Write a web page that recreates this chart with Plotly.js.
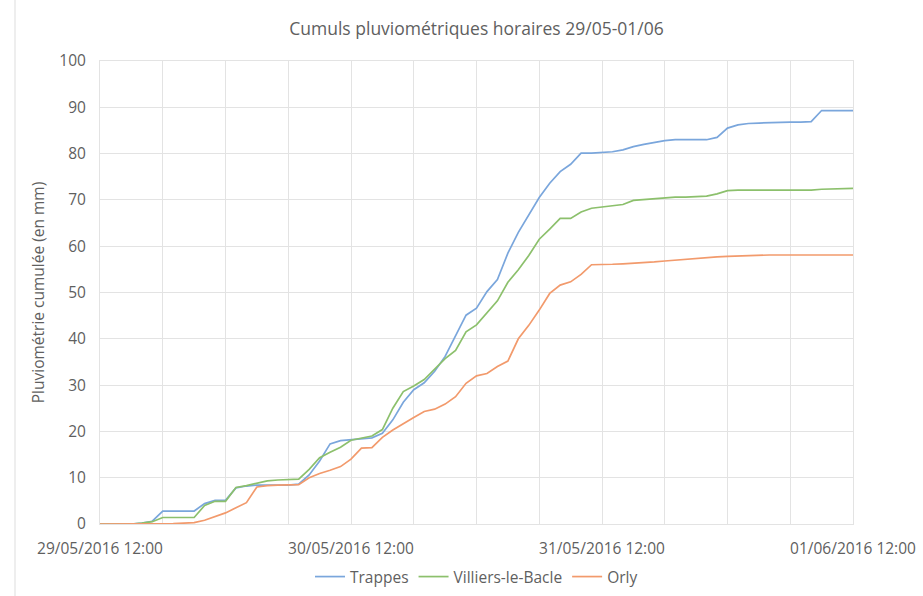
<!DOCTYPE html>
<html>
<head>
<meta charset="utf-8">
<script src="https://cdn.plot.ly/plotly-3.0.1.min.js"></script>
<style>
html,body{margin:0;padding:0;background:#fff;}
#chart{width:923px;height:596px;}
</style>
</head>
<body>
<div id="chart"></div>
<script>
// Hourly timestamps, 29/05/2016 12:00 -> 01/06/2016 12:00
const times = [
"2016-05-29 12:00","2016-05-29 13:00","2016-05-29 14:00","2016-05-29 15:00","2016-05-29 16:00","2016-05-29 17:00",
"2016-05-29 18:00","2016-05-29 19:00","2016-05-29 20:00","2016-05-29 21:00","2016-05-29 22:00","2016-05-29 23:00",
"2016-05-30 00:00","2016-05-30 01:00","2016-05-30 02:00","2016-05-30 03:00","2016-05-30 04:00","2016-05-30 05:00",
"2016-05-30 06:00","2016-05-30 07:00","2016-05-30 08:00","2016-05-30 09:00","2016-05-30 10:00","2016-05-30 11:00",
"2016-05-30 12:00","2016-05-30 13:00","2016-05-30 14:00","2016-05-30 15:00","2016-05-30 16:00","2016-05-30 17:00",
"2016-05-30 18:00","2016-05-30 19:00","2016-05-30 20:00","2016-05-30 21:00","2016-05-30 22:00","2016-05-30 23:00",
"2016-05-31 00:00","2016-05-31 01:00","2016-05-31 02:00","2016-05-31 03:00","2016-05-31 04:00","2016-05-31 05:00",
"2016-05-31 06:00","2016-05-31 07:00","2016-05-31 08:00","2016-05-31 09:00","2016-05-31 10:00","2016-05-31 11:00",
"2016-05-31 12:00","2016-05-31 13:00","2016-05-31 14:00","2016-05-31 15:00","2016-05-31 16:00","2016-05-31 17:00",
"2016-05-31 18:00","2016-05-31 19:00","2016-05-31 20:00","2016-05-31 21:00","2016-05-31 22:00","2016-05-31 23:00",
"2016-06-01 00:00","2016-06-01 01:00","2016-06-01 02:00","2016-06-01 03:00","2016-06-01 04:00","2016-06-01 05:00",
"2016-06-01 06:00","2016-06-01 07:00","2016-06-01 08:00","2016-06-01 09:00","2016-06-01 10:00","2016-06-01 11:00",
"2016-06-01 12:00"
];

const trappes = [
0,0,0,0,0.2,0.6,2.8,2.8,2.8,2.8,4.4,5.1,
5.1,7.8,8.2,8.4,8.4,8.4,8.4,8.6,10.6,13.6,17.3,18.0,
18.2,18.4,18.6,19.6,22.5,26.3,29.0,30.5,33.0,36.2,40.5,45.1,
46.6,50.2,52.8,58.5,63.0,66.7,70.5,73.6,76.1,77.7,80.1,80.1,
80.2,80.4,80.8,81.5,82.0,82.4,82.8,83.0,83.0,83.0,83.0,83.5,
85.5,86.2,86.5,86.6,86.7,86.8,86.8,86.8,86.9,89.3,89.3,89.3,
89.3
];

const villiers = [
0,0,0,0,0.2,0.5,1.4,1.4,1.4,1.4,4.0,4.9,
4.9,7.9,8.3,8.8,9.3,9.5,9.6,9.7,11.8,14.3,15.5,16.6,
18.1,18.6,19.0,20.4,25.0,28.6,29.8,31.2,33.5,35.7,37.5,41.5,
43.0,45.5,48.2,52.2,54.9,58.0,61.5,63.7,66.0,66.0,67.4,68.2,
68.5,68.8,69.0,69.9,70.1,70.2,70.5,70.6,70.6,70.7,70.8,71.3,
72.0,72.1,72.1,72.1,72.1,72.1,72.1,72.1,72.1,72.3,72.4,72.5,
72.5
];

const orly = [
0,0,0,0,0,0,0,0.1,0.2,0.3,0.8,1.6,
2.4,3.5,4.6,8.0,8.3,8.4,8.4,8.5,10.0,10.9,11.6,12.4,
14.0,16.4,16.5,18.7,20.3,21.7,23.0,24.3,24.8,25.9,27.5,30.4,
32.0,32.5,34.0,35.2,40.0,42.9,46.2,49.8,51.6,52.3,53.9,56.0,
56.0,56.1,56.2,56.3,56.4,56.6,56.8,57.0,57.2,57.4,57.6,57.7,
57.8,57.9,58.0,58.1,58.1,58.1,58.1,58.1,58.1,58.1,58.1,58.1,
58.1
];

const seriesNames = ["Trappes","Villiers-le-Bacle","Orly"];
const seriesColors = ["#7aa6dc","#8cc06c","#f29a6c"];

// x ticks every 6 h, labels every 24 h
const tickVals = [
"2016-05-29 12:00","2016-05-29 18:00","2016-05-30 00:00","2016-05-30 06:00",
"2016-05-30 12:00","2016-05-30 18:00","2016-05-31 00:00","2016-05-31 06:00",
"2016-05-31 12:00","2016-05-31 18:00","2016-06-01 00:00","2016-06-01 06:00",
"2016-06-01 12:00"
];
const tickText = [
"29/05/2016 12:00","","","",
"30/05/2016 12:00","","","",
"31/05/2016 12:00","","","",
"01/06/2016 12:00"
];

const titleText = "Cumuls pluviométriques horaires 29/05-01/06";
const yTitleText = "Pluviométrie cumulée (en mm)";

const ys = [trappes, villiers, orly];
const traces = ys.map((y,i)=>({
  x: times, y: y, type:"scatter", mode:"lines", name: seriesNames[i],
  line:{color: seriesColors[i], width:1.7}
}));

const gridC = "#e3e3e3";
const txtC = "#5f5f5f";
const F = "Open Sans, Liberation Sans, sans-serif";

const layout = {
  width:923, height:596,
  paper_bgcolor:"#fff", plot_bgcolor:"#fff",
  margin:{l:100, r:70, t:61, b:72, autoexpand:false},
  font:{family:F, color:txtC, size:15},
  title:{text:titleText, font:{family:F, size:17.5, color:txtC},
         x:0.5, xref:"paper", xanchor:"center", y:1-29/596, yref:"container", yanchor:"middle"},
  xaxis:{type:"date", range:["2016-05-29 12:00","2016-06-01 12:00"],
         tickmode:"array", tickvals:tickVals, ticktext:tickText,
         showgrid:true, gridcolor:gridC, gridwidth:1,
         showline:true, linecolor:gridC, linewidth:1, mirror:true,
         zeroline:false, ticks:"", ticklabelstandoff:10, automargin:false,
         tickfont:{family:F, size:15.5, color:txtC}, fixedrange:true},
  yaxis:{range:[0,100], dtick:10, tick0:0,
         showgrid:true, gridcolor:gridC, gridwidth:1,
         showline:true, linecolor:gridC, linewidth:1, mirror:true,
         zeroline:false, ticks:"", ticklabelstandoff:10, automargin:false,
         tickfont:{family:F, size:15.5, color:txtC},
         title:{text:yTitleText, font:{family:F, size:15.5, color:txtC}, standoff:10}},
  showlegend:true,
  legend:{orientation:"h", x:0.5, xanchor:"center", y:-53/463, yanchor:"middle",
          font:{family:F, size:15.5, color:txtC}, itemwidth:30, bgcolor:"rgba(0,0,0,0)"},
  shapes:[
    {type:"line", xref:"paper", yref:"paper", x0:-85/753, x1:1+80/753, y0:1+516/463, y1:1+516/463, line:{color:"#dddddd", width:1}},
    {type:"line", xref:"paper", yref:"paper", x0:-85/753, x1:-85/753, y0:1+516/463, y1:-80/463, line:{color:"#dddddd", width:1}}
  ]
};

Plotly.newPlot("chart", traces, layout, {staticPlot:true, displayModeBar:false});
</script>
</body>
</html>
